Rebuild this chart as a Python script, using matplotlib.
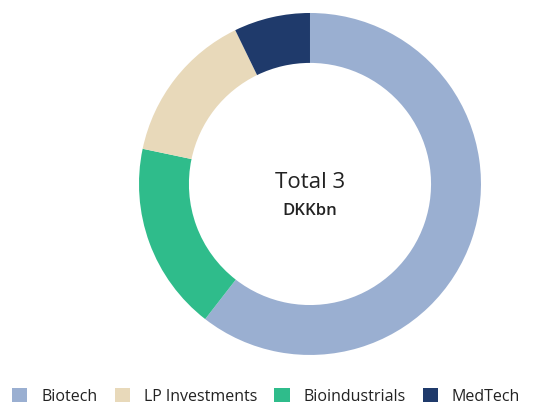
import matplotlib.pyplot as plt
from matplotlib.patches import Patch

# shares of total (%), clockwise from 12 o'clock
pie_labels = ['Biotech', 'Bioindustrials', 'LP Investments', 'MedTech']
pie_values = [60.5, 17.8, 14.5, 7.2]
pie_colors = ['#9AAFD1', '#2FBC8B', '#E8D9BA', '#1F3A6B']

legend_order = ['Biotech', 'LP Investments', 'Bioindustrials', 'MedTech']

plt.rcParams['font.family'] = ['Open Sans', 'DejaVu Sans']

fig = plt.figure(figsize=(5.4, 4.06), dpi=100)
ax = fig.add_axes([0.2574, 0.1232, 0.6333, 0.8424])
ax.pie(pie_values, colors=pie_colors, startangle=90, counterclock=False,
       radius=1, wedgeprops=dict(width=0.292, linewidth=0))
ax.set_xlim(-1, 1)
ax.set_ylim(-1, 1)
ax.set_aspect('equal')
ax.axis('off')

ax.text(0, 0.015, 'Total 3', ha='center', va='center', fontsize=16, color='#222222')
ax.text(0, -0.15, 'DKKbn', ha='center', va='center', fontsize=12, fontweight='semibold', color='#222222')

col = dict(zip(pie_labels, pie_colors))
handles = [Patch(facecolor=col[l], edgecolor='none') for l in legend_order]
fig.legend(handles, legend_order, loc='lower left', bbox_to_anchor=(0.008, -0.018),
           ncol=4, frameon=False, fontsize=11.5, handlelength=0.95, handleheight=0.95,
           handletextpad=0.85, columnspacing=1.1, borderpad=0, labelcolor='#222222')

fig.savefig('out.png', dpi=100)
